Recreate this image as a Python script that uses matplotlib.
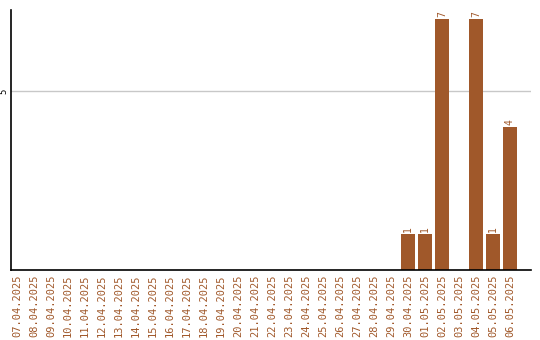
import matplotlib
matplotlib.use("Agg")
import matplotlib.pyplot as plt

dates = [
    "07.04.2025", "08.04.2025", "09.04.2025", "10.04.2025", "11.04.2025",
    "12.04.2025", "13.04.2025", "14.04.2025", "15.04.2025", "16.04.2025",
    "17.04.2025", "18.04.2025", "19.04.2025", "20.04.2025", "21.04.2025",
    "22.04.2025", "23.04.2025", "24.04.2025", "25.04.2025", "26.04.2025",
    "27.04.2025", "28.04.2025", "29.04.2025", "30.04.2025", "01.05.2025",
    "02.05.2025", "03.05.2025", "04.05.2025", "05.05.2025", "06.05.2025",
]
counts = [0] * 23 + [1, 1, 7, 0, 7, 1, 4]
y_ticks = [5]

bar_color = "#a0582a"
font = "DejaVu Sans Mono"

fig = plt.figure(figsize=(5.4, 3.4), dpi=100)
ax = fig.add_axes([11 / 540, 70 / 340, 520 / 540, 260 / 340])

x = list(range(len(dates)))
ax.bar(x, counts, width=0.82, color=bar_color, zorder=2)

for xi, v in zip(x, counts):
    if v > 0:
        ax.text(xi, v + 0.06, str(v), rotation=90, ha="center", va="bottom",
                color=bar_color, fontsize=7, family=font)

ax.set_xlim(-0.35, 30.24)
ax.set_ylim(0, 7.26)

ax.set_xticks(x)
ax.set_xticklabels(dates, rotation=90, color=bar_color, fontsize=7.5, family=font)
ax.set_yticks(y_ticks)
ax.set_yticklabels([str(t) for t in y_ticks], rotation=90, va="center",
                   fontsize=6.5, family=font)
ax.tick_params(axis="both", length=0, pad=3)
ax.tick_params(axis="y", pad=2)

ax.grid(axis="y", color="#c8c8c8", linewidth=1, zorder=0)
ax.spines["top"].set_visible(False)
ax.spines["right"].set_visible(False)
for s in ("left", "bottom"):
    ax.spines[s].set_color("black")
    ax.spines[s].set_linewidth(1.2)
    ax.spines[s].set_zorder(3)

fig.savefig("out.png", dpi=100)
